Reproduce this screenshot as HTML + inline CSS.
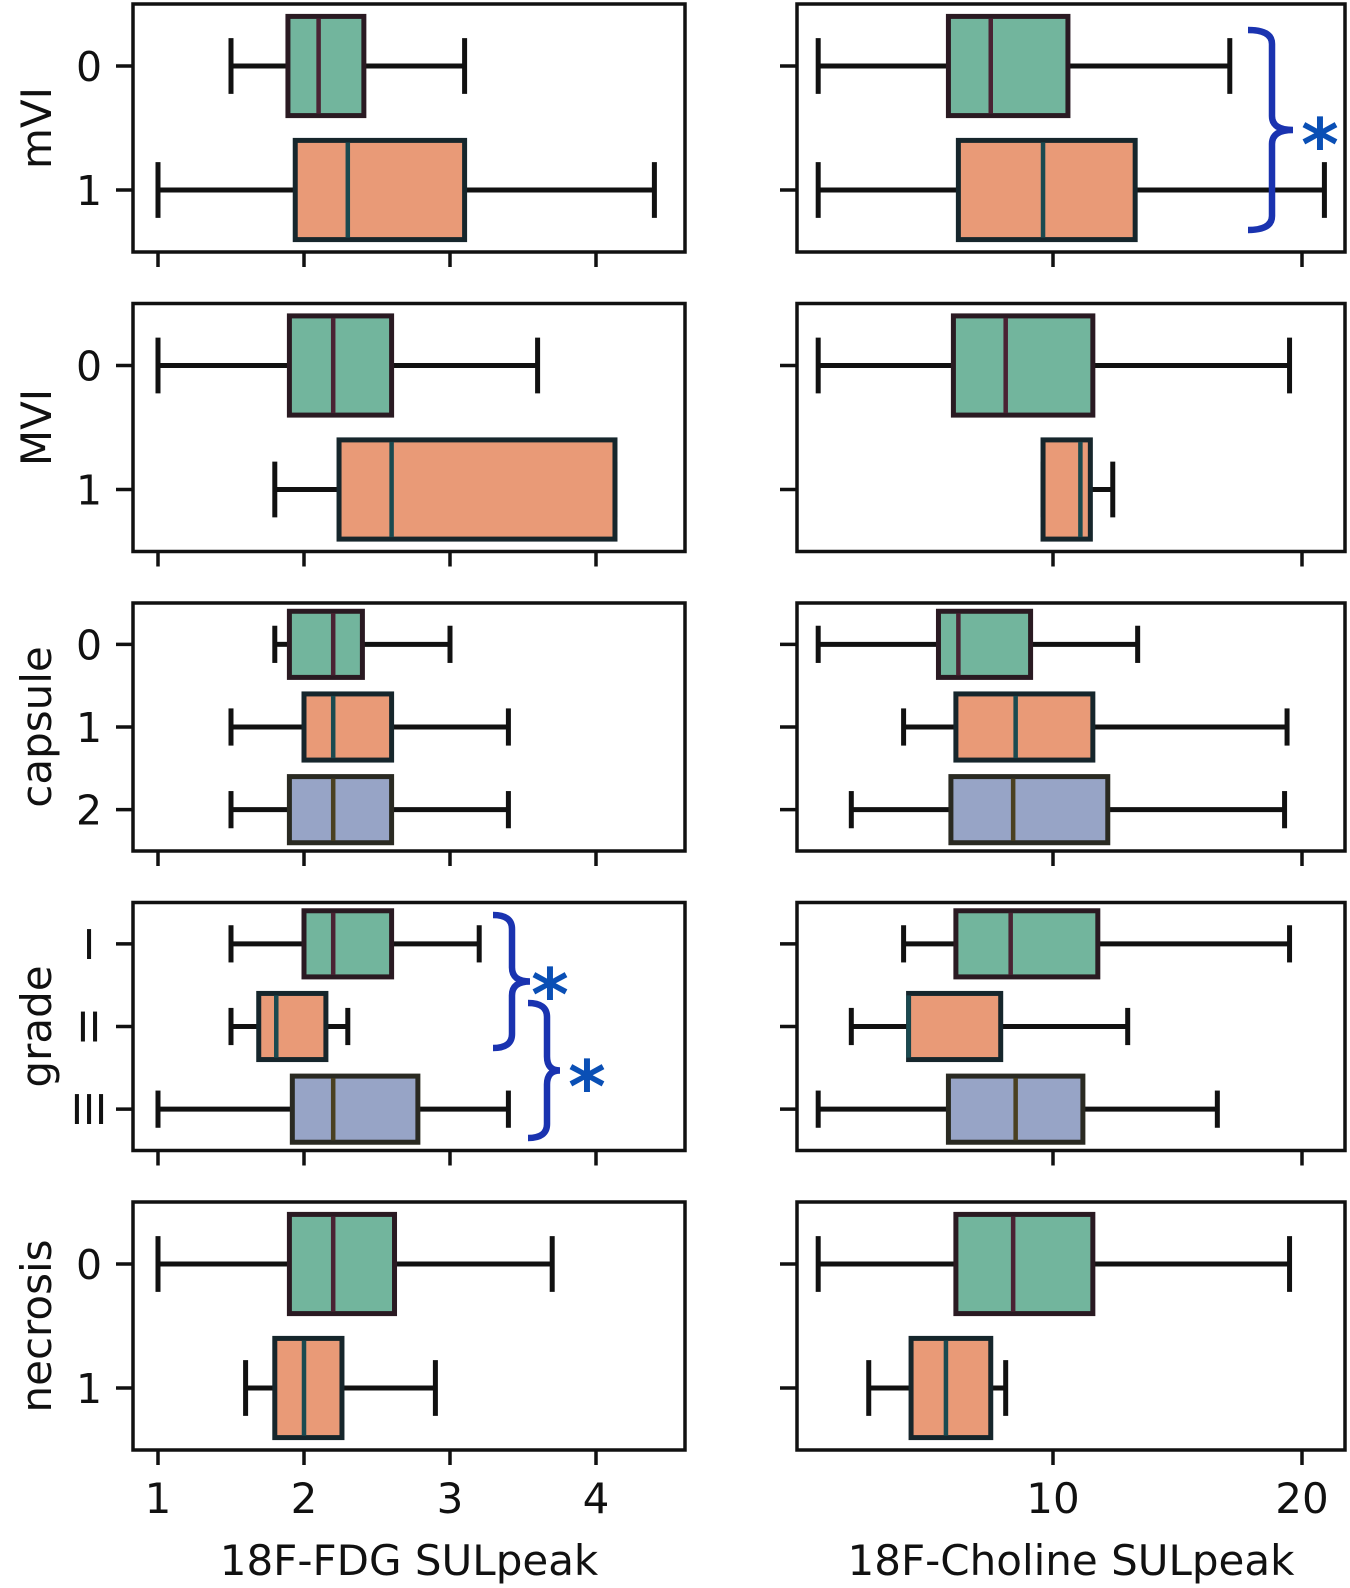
<!DOCTYPE html>
<html><head><meta charset="utf-8">
<style>
html,body{margin:0;padding:0;background:#fff;}
svg{display:block;font-family:"DejaVu Sans","Liberation Sans",sans-serif;}
</style></head>
<body>
<svg id="chart" width="1350" height="1588" viewBox="0 0 1350 1588" xmlns="http://www.w3.org/2000/svg"></svg>
<script>
// ---- data ----
const rowNames = ["mVI", "MVI", "capsule", "grade", "necrosis"];
const rowCats = [["0","1"], ["0","1"], ["0","1","2"], ["I","II","III"], ["0","1"]];
// [min, q1, median, q3, max]
const fdgStats = [
  [[1.5,1.89,2.1,2.41,3.1],[1.0,1.94,2.3,3.1,4.4]],
  [[1.0,1.9,2.2,2.6,3.6],[1.8,2.24,2.6,4.13,4.13]],
  [[1.8,1.9,2.2,2.4,3.0],[1.5,2.0,2.2,2.6,3.4],[1.5,1.9,2.2,2.6,3.4]],
  [[1.5,2.0,2.2,2.6,3.2],[1.5,1.69,1.81,2.15,2.3],[1.0,1.92,2.2,2.78,3.4]],
  [[1.0,1.9,2.2,2.62,3.7],[1.6,1.8,2.0,2.26,2.9]]
];
const cholStats = [
  [[0.57,5.8,7.5,10.6,17.1],[0.57,6.2,9.6,13.3,20.9]],
  [[0.57,6.0,8.1,11.6,19.5],[9.6,9.6,11.1,11.5,12.4]],
  [[0.57,5.4,6.2,9.1,13.4],[4.0,6.1,8.5,11.6,19.4],[1.9,5.9,8.4,12.2,19.3]],
  [[4.0,6.1,8.3,11.8,19.5],[1.9,4.2,4.2,7.9,13.0],[0.57,5.8,8.5,11.2,16.6]],
  [[0.57,6.1,8.4,11.6,19.5],[2.6,4.3,5.7,7.5,8.1]]
];
const fdgTicks = [1,2,3,4];
const cholTicks = [10,20];
const xTitles = ["18F-FDG SULpeak","18F-Choline SULpeak"];

// ---- layout ----
const NS = "http://www.w3.org/2000/svg";
const svg = document.getElementById("chart");
const fills = ["#72b59d","#e99a77","#97a4c6"];
const meds = ["#4a2233","#1a4a50","#4a4020"];
const edges = ["#2a1a22","#16262c","#2a2a22"];
const rowTop = i => 4 + i*299.5;
const panelH = 248;
const L = {x0:133, x1:685, sx: v => 158 + (v-1)*146};
const R = {x0:797, x1:1345, sx: v => 1053 + (v-10)*24.9};

function mk(tag, attrs, parent){
  const e = document.createElementNS(NS, tag);
  for (const k in attrs) e.setAttribute(k, attrs[k]);
  (parent||svg).appendChild(e);
  return e;
}

function drawPanel(r, side, stats, ticks, panelName){
  const P = side === 0 ? L : R;
  const top = rowTop(r), n = rowCats[r].length, unit = panelH/n;
  const g = mk("g", {});
  
  
  stats.forEach((s, i) => {
    const cy = top + (i+0.5)*unit, bh = 0.8*unit, ch = 0.45*unit;
    const bg = mk("g", {}, g);
    
    
    const xs = s.map(P.sx);
    mk("line",{x1:xs[0],x2:xs[1],y1:cy,y2:cy,stroke:"#111","stroke-width":5},bg);
    mk("line",{x1:xs[3],x2:xs[4],y1:cy,y2:cy,stroke:"#111","stroke-width":5},bg);
    mk("line",{x1:xs[0],x2:xs[0],y1:cy-ch/2,y2:cy+ch/2,stroke:"#111","stroke-width":5},bg);
    mk("line",{x1:xs[4],x2:xs[4],y1:cy-ch/2,y2:cy+ch/2,stroke:"#111","stroke-width":5},bg);
    mk("rect",{x:xs[1],y:cy-bh/2,width:Math.max(xs[3]-xs[1],1),height:bh,fill:fills[i],stroke:edges[i],"stroke-width":5},bg);
    mk("line",{x1:xs[2],x2:xs[2],y1:cy-bh/2+2,y2:cy+bh/2-2,stroke:meds[i],"stroke-width":4.5},bg);
    mk("line",{x1:P.x0-17,x2:P.x0,y1:cy,y2:cy,stroke:"#111","stroke-width":3.5},g);
    if (side === 0){
      const t = mk("text",{x:P.x0-44,y:cy+15,"font-size":41,"text-anchor":"middle",fill:"#111"},g);
      
      
      t.textContent = rowCats[r][i];
    }
  });
  const fr = mk("rect",{x:P.x0,y:top,width:P.x1-P.x0,height:panelH,fill:"none",stroke:"#111","stroke-width":3.5},g);
  
  
  ticks.forEach(t => {
    const x = P.sx(t);
    mk("line",{x1:x,x2:x,y1:top+panelH,y2:top+panelH+15,stroke:"#111","stroke-width":3.5},g);
    if (r === rowNames.length-1){
      const tl = mk("text",{x:x,y:1513,"font-size":42,"text-anchor":"middle",fill:"#111"},g);
      
      
      tl.textContent = t;
    }
  });
  if (side === 0){
    const cy = top + panelH/2;
    const yl = mk("text",{x:0,y:0,"font-size":42,"text-anchor":"middle",fill:"#111",transform:`translate(51 ${cy}) rotate(-90)`},g);
    
    
    yl.textContent = rowNames[r];
  }
}

rowNames.forEach((nm, r) => {
  drawPanel(r, 0, fdgStats[r], fdgTicks, 'fdg-panel-' + nm.toLowerCase());
  drawPanel(r, 1, cholStats[r], cholTicks, 'choline-panel-' + nm.toLowerCase());
});

[[L, xTitles[0], 'x-axis-title-fdg'], [R, xTitles[1], 'x-axis-title-choline']].forEach(([P, txt, nm]) => {
  const t = mk("text",{x:(P.x0+P.x1)/2,y:1575,"font-size":42,"text-anchor":"middle",fill:"#111"});
  
  
  t.textContent = txt;
});

function brace(left, spine, tip, y0, y1, sx, sy, nm){
  const m = (y0+y1)/2, rr = 14;
  const d = `M${left},${y0} Q${spine},${y0} ${spine},${y0+rr} L${spine},${m-rr} Q${spine},${m} ${tip},${m} Q${spine},${m} ${spine},${m+rr} L${spine},${y1-rr} Q${spine},${y1} ${left},${y1}`;
  const g = mk("g", {});
  
  
  mk("path",{d:d,fill:"none",stroke:"#1a33b0","stroke-width":6.5},g);
  const s = mk("text",{x:sx,y:sy+40,"font-size":72,"font-weight":"bold","text-anchor":"middle",fill:"#0a4fb5"},g);
  
  
  s.textContent = "*";
}
brace(1248,1272,1293,30,230,1320,130,'significance-brace-mvi');
brace(493,512,530,915,1048,550,980,'significance-brace-grade-1-2');
brace(528,547,560,1003,1138,587,1072,'significance-brace-grade-2-3');
</script>
</body></html>
